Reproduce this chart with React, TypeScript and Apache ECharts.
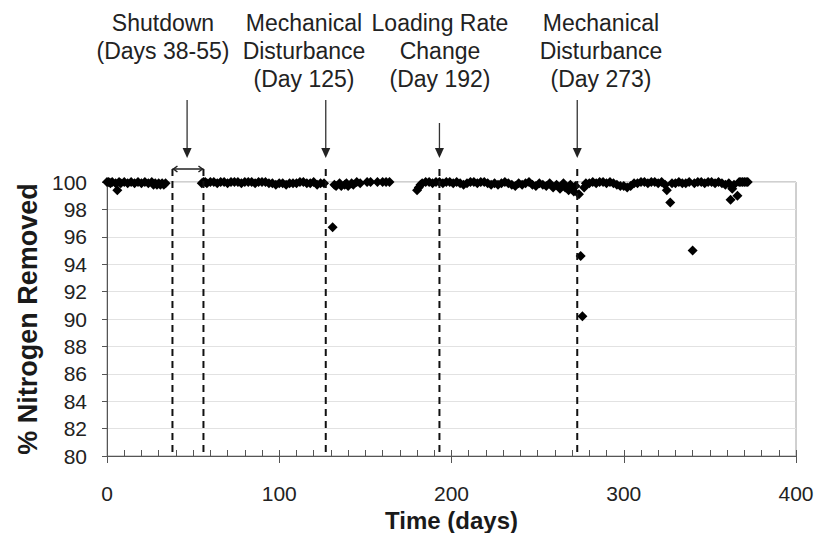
import React, { useEffect, useRef } from "react";
import * as echarts from "echarts";

// Sample days and % nitrogen removed
const days = [
  0, 1, 2, 3, 5, 6, 7, 8, 10, 12, 14, 16, 18, 20, 22, 24, 26, 27, 28, 29, 30, 31, 32, 33, 34,
  55, 56, 57, 58, 60, 62, 64, 66, 68, 70, 72, 74, 76, 78, 80, 82, 84, 86, 88, 90, 92, 94, 96, 98,
  100, 102, 104, 106, 108, 110, 112, 114, 116, 118, 120, 122, 124, 126, 131, 132, 133, 135, 136,
  138, 139, 140, 142, 143, 145, 147, 151, 153, 157, 160, 162, 164,
  180, 181, 182, 183, 185, 187, 189, 191, 193, 195, 197, 199, 201, 203, 205, 207, 209, 211, 213,
  215, 217, 219, 221, 223, 225, 227, 229, 231, 233, 235, 237, 239, 241, 243, 245, 247, 249, 251,
  253, 255, 257, 259, 261, 263, 265, 266, 268, 269, 270, 271, 272, 274, 275, 276, 277, 278, 280,
  282, 284, 286, 288, 290, 292, 294, 296, 298, 300, 302, 304, 306, 308, 310, 312, 314, 316, 318,
  320, 322, 324, 325, 327, 328, 330, 332, 334, 336, 338, 340, 341, 343, 345, 347, 349, 351, 353,
  355, 357, 359, 361, 362, 363, 364, 366, 367, 368, 369, 370, 371, 372,
];
const removed = [
  100.0, 100.0, 99.9, 100.0, 99.9, 99.4, 100.0, 99.9, 100.0, 99.9, 100.0, 99.9, 100.0, 99.9, 100.0, 99.9, 100.0, 99.8, 99.9, 99.8, 99.9, 99.8, 99.9, 99.8, 99.9,
  99.9, 100.0, 100.0, 99.9, 100.0, 100.0, 99.9, 100.0, 100.0, 99.9, 100.0, 100.0, 100.0, 99.9, 100.0, 100.0, 100.0, 99.9, 100.0, 100.0, 100.0, 99.9, 99.9, 99.8,
  99.9, 99.9, 99.8, 99.9, 99.9, 99.9, 100.0, 100.0, 99.9, 99.9, 100.0, 99.8, 99.9, 99.9, 96.7, 99.8, 99.7, 99.9, 99.7,
  99.8, 99.9, 99.7, 99.9, 99.8, 100.0, 99.9, 100.0, 100.0, 100.0, 100.0, 100.0, 100.0,
  99.4, 99.6, 99.8, 99.9, 100.0, 100.0, 99.9, 100.0, 100.0, 99.9, 100.0, 100.0, 99.9, 100.0, 99.9, 99.8, 99.9, 100.0, 100.0,
  99.9, 100.0, 100.0, 99.9, 99.8, 99.9, 99.8, 99.9, 100.0, 99.9, 99.8, 99.7, 99.9, 99.8, 99.9, 100.0, 99.8, 99.7, 99.9,
  99.8, 99.7, 99.9, 99.6, 99.8, 99.5, 99.9, 99.6, 99.4, 99.8, 99.5, 99.3, 99.7, 99.1, 94.6, 90.2, 99.6, 99.9, 99.9,
  100.0, 99.9, 100.0, 100.0, 99.9, 100.0, 99.9, 99.8, 99.7, 99.7, 99.6, 99.7, 99.9, 99.9, 100.0, 100.0, 99.9, 100.0, 100.0,
  99.9, 100.0, 99.8, 99.4, 98.5, 99.9, 99.9, 100.0, 99.9, 99.9, 100.0, 95.0, 99.9, 100.0, 100.0, 99.9, 100.0, 100.0, 99.9,
  100.0, 99.9, 99.8, 99.9, 98.7, 99.5, 99.8, 99.0, 100.0, 100.0, 100.0, 100.0, 100.0, 100.0,
];

// Event markers
const dashedDays = [38, 56, 127, 193, 273];
const arrowDays = [46.5, 127, 193, 273];
const arrowStartY = [100, 100, 123, 100];
const annotationTexts = [
  "Shutdown\n(Days 38-55)",
  "Mechanical\nDisturbance\n(Day 125)",
  "Loading Rate\nChange\n(Day 192)",
  "Mechanical\nDisturbance\n(Day 273)",
];
const annotationX = [163, 304, 440, 601];

const FONT = '"Liberation Sans", Arial, sans-serif';

export default function App() {
  const ref = useRef<HTMLDivElement>(null);
  useEffect(() => {
    const chart = echarts.init(ref.current!, null, { renderer: "svg" });
    chart.setOption({
      animation: false,
      backgroundColor: "#ffffff",
      textStyle: { fontFamily: FONT },
      grid: {
        left: 107,
        right: 21,
        top: 182,
        bottom: 77,
        show: true,
        borderColor: "#a0a0a0",
        borderWidth: 1,
        containLabel: false,
        outerBoundsMode: "none",
      },
      xAxis: [
        {
          type: "value",
          min: 0,
          max: 400,
          interval: 100,
          name: "Time (days)",
          nameLocation: "middle",
          nameGap: 44,
          nameTextStyle: { fontFamily: FONT, fontSize: 24, fontWeight: "bold", color: "#1a1a1a" },
          axisLine: { show: true, lineStyle: { color: "#555", width: 1 } },
          axisTick: { show: true, inside: false, length: 7, lineStyle: { color: "#555" } },
          axisLabel: { fontFamily: FONT, fontSize: 21, color: "#222", margin: 27 },
          splitLine: { show: false },
        },
        {
          type: "value",
          min: 0,
          max: 400,
          interval: 10,
          position: "bottom",
          axisLine: { show: false },
          axisTick: { show: true, inside: true, length: 6, lineStyle: { color: "#555" } },
          axisLabel: { show: false },
          splitLine: { show: false },
        },
      ],
      yAxis: {
        type: "value",
        min: 80,
        max: 100,
        interval: 2,
        name: "% Nitrogen Removed",
        nameLocation: "middle",
        nameGap: 63,
        nameTextStyle: { fontFamily: FONT, fontSize: 27, fontWeight: "bold", color: "#1a1a1a" },
        axisLine: { show: true, lineStyle: { color: "#555", width: 1 } },
        axisTick: { show: true, inside: false, length: 5, lineStyle: { color: "#555" } },
        axisLabel: { fontFamily: FONT, fontSize: 21, color: "#222", margin: 20 },
        splitLine: { show: true, lineStyle: { color: "#e2e2e2", width: 1 } },
      },
      series: [
        {
          type: "scatter",
          xAxisIndex: 0,
          yAxisIndex: 0,
          symbol: "diamond",
          symbolSize: 10,
          itemStyle: { color: "#000", opacity: 1 },
          data: days.map((d, i) => [d, removed[i]]),
        },
      ],
    });

    const px = (d: number, v: number) =>
      chart.convertToPixel({ xAxisIndex: 0, yAxisIndex: 0 }, [d, v]) as number[];
    const bottomY = px(0, 80)[1];
    const topY = px(0, 100)[1];
    const graphics: any[] = [];

    dashedDays.forEach((d) => {
      const x = px(d, 100)[0];
      graphics.push({
        type: "line",
        shape: { x1: x, y1: topY - 13, x2: x, y2: bottomY },
        style: { stroke: "#111", lineWidth: 2, lineDash: [7, 5] },
        z: 10,
      });
    });

    // Shutdown bracket
    const bx1 = px(dashedDays[0], 100)[0];
    const bx2 = px(dashedDays[1], 100)[0];
    const by = topY - 13;
    graphics.push(
      { type: "line", shape: { x1: bx1, y1: by, x2: bx2, y2: by }, style: { stroke: "#222", lineWidth: 1.5 }, z: 10 },
      { type: "polyline", shape: { points: [[bx1 + 5, by - 3], [bx1 + 1, by], [bx1 + 5, by + 3]] }, style: { stroke: "#222", lineWidth: 1.5, fill: null }, z: 10 },
      { type: "polyline", shape: { points: [[bx2 - 5, by - 3], [bx2 - 1, by], [bx2 - 5, by + 3]] }, style: { stroke: "#222", lineWidth: 1.5, fill: null }, z: 10 },
    );

    // Arrows
    const tipY = topY - 24;
    arrowDays.forEach((d, i) => {
      const x = px(d, 100)[0];
      graphics.push(
        {
          type: "line",
          shape: { x1: x, y1: arrowStartY[i], x2: x, y2: tipY - 9 },
          style: { stroke: "#333", lineWidth: 1.3 },
          z: 10,
        },
        {
          type: "polygon",
          shape: { points: [[x - 4.5, tipY - 10], [x + 4.5, tipY - 10], [x, tipY]] },
          style: { fill: "#222" },
          z: 10,
        },
      );
    });

    annotationTexts.forEach((t, i) => {
      graphics.push({
        type: "text",
        x: annotationX[i],
        y: 9,
        style: {
          text: t,
          font: `23px ${FONT}`,
          fill: "#222",
          align: "center",
          textAlign: "center",
          verticalAlign: "top",
          textVerticalAlign: "top",
          lineHeight: 28,
        },
        z: 10,
      });
    });

    chart.setOption({ graphic: graphics });
    return () => chart.dispose();
  }, []);
  return (
    <div
      ref={ref}
      style={{ position: "absolute", left: 0, top: 0, width: 817, height: 533 }}
    />
  );
}
